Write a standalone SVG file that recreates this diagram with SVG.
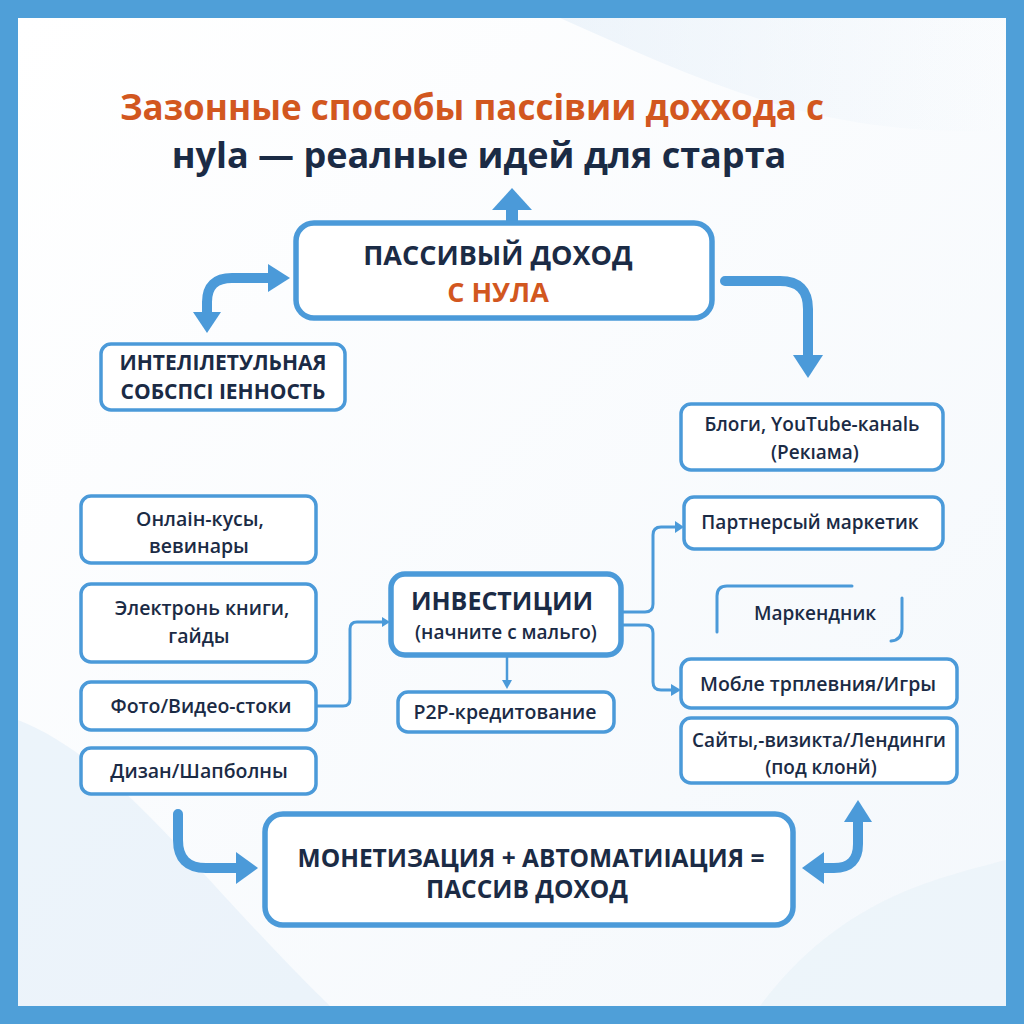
<svg xmlns="http://www.w3.org/2000/svg" width="1024" height="1024" viewBox="0 0 1024 1024">
<defs>
<linearGradient id="bg" x1="0" y1="0" x2="1" y2="1">
<stop offset="0" stop-color="#ffffff"/>
<stop offset="1" stop-color="#f4f8fc"/>
</linearGradient>
<linearGradient id="wave" x1="0" y1="0" x2="1" y2="0">
<stop offset="0" stop-color="#dbe9f6" stop-opacity="0.9"/>
<stop offset="1" stop-color="#dbe9f6" stop-opacity="0"/>
</linearGradient>
</defs>
<style>
.box{fill:#ffffff;stroke:#4b9ad9;stroke-width:3.5}
.bx{fill:#ffffff;stroke:#4b9ad9;stroke-width:5.5}
.t{font-family:"Open Sans","Noto Sans",sans-serif;font-weight:600;fill:#1b2b45;text-anchor:middle}
.tb{font-family:"Open Sans","Noto Sans",sans-serif;font-weight:700;fill:#1b2b45;text-anchor:middle}
.or{fill:#d2571f}
.con{fill:none;stroke:#4b9ad9;stroke-width:3;stroke-linecap:round;stroke-linejoin:round}
.big{fill:none;stroke:#4b9ad9;stroke-width:10;stroke-linecap:round}
.head{fill:#4b9ad9}
</style>
<rect x="0" y="0" width="1024" height="1024" fill="#4f9fd8"/>
<rect x="18" y="18" width="988" height="988" fill="url(#bg)"/>
<path d="M560 18 C700 80 820 140 1006 130 L1006 18 Z" fill="url(#wave)" opacity="0.5"/>
<path d="M18 720 C120 760 200 880 330 1006 L18 1006 Z" fill="#e3eef8" opacity="0.6"/>
<path d="M760 1006 C840 900 930 880 1006 860 L1006 1006 Z" fill="#e8f1f9" opacity="0.6"/>

<g id="title">
<text class="tb or" x="472" y="120" font-size="35">Зазонные способы пассівии доххода с</text>
<text class="tb" x="479" y="168" font-size="36">нуlа — реалные идей для старта</text>
</g>

<g id="connectors">
<path d="M512 222 L512 205" class="big" stroke-linecap="butt" style="stroke-width:12"/>
<path d="M492 210 L512 188 L532 210 Z" class="head"/>
<path d="M207 312 L207 302 Q207 278 232 278 L268 278" class="big" stroke-linecap="butt"/>
<path d="M268 264 L290 278 L268 292 Z" class="head"/>
<path d="M193 312 L207 333 L221 312 Z" class="head"/>
<path d="M725 281 L780 281 Q808 281 808 309 L808 356" class="big" stroke-linecap="round"/>
<path d="M793 355 L808 378 L823 355 Z" class="head"/>
<path d="M317 706 L343 706 Q350 706 350 699 L350 629 Q350 622 357 622 L384 622" class="con"/>
<path d="M382 617 L390 622 L382 627 Z" class="head"/>
<path d="M507 657 L507 682" class="con" style="stroke-width:2.5"/>
<path d="M502 680 L507 689 L512 680 Z" class="head"/>
<path d="M622 612 L645 612 Q653 612 653 604 L653 535 Q653 527 661 527 L677 527" class="con"/>
<path d="M675 521 L684 527 L675 533 Z" class="head"/>
<path d="M622 625 L645 625 Q653 625 653 633 L653 682 Q653 690 661 690 L673 690" class="con"/>
<path d="M671 684 L681 690 L671 696 Z" class="head"/>
<path d="M178 814 L178 840 Q178 868 206 868 L236 868" class="big" stroke-linecap="round"/>
<path d="M236 852 L258 868 L236 884 Z" class="head"/>
<path d="M822 868 L834 868 Q858 868 858 844 L858 820" class="big" stroke-linecap="butt"/>
<path d="M824 852 L802 868 L824 884 Z" class="head"/>
<path d="M844 822 L858 800 L872 822 Z" class="head"/>
</g>

<g id="node-main">
<rect class="bx" x="296" y="223" width="416" height="95" rx="18"/>
<text class="tb" x="498" y="265" font-size="27">ПАССИВЫЙ ДОХОД</text>
<text class="tb or" x="498" y="302" font-size="27">С НУЛА</text>
</g>

<g id="node-ip">
<rect class="box" x="101" y="344" width="244" height="66" rx="10"/>
<text class="tb" x="223" y="370" font-size="21">ИНТЕЛІЛЕТУЛЬНАЯ</text>
<text class="tb" x="223" y="399" font-size="21">СОБСПСІ ІЕННОСТЬ</text>
</g>

<g id="node-blogs">
<rect class="box" x="681" y="404" width="262" height="66" rx="10"/>
<text class="t" x="812" y="431" font-size="19">Блоги, YouTube-канаlь</text>
<text class="t" x="815" y="459" font-size="19">(Рекıама)</text>
</g>

<g id="node-partner">
<rect class="box" x="684" y="497" width="259" height="52" rx="10"/>
<text class="t" x="810" y="529" font-size="19">Партнерсый маркетик</text>
</g>

<g id="node-market">
<path d="M717 632 L717 596 Q717 586 727 586 L852 586" class="con"/>
<path d="M902 598 L902 629 Q902 640 891 641" class="con"/>
<text class="t" x="815" y="620" font-size="19">Маркендник</text>
</g>

<g id="node-mobile">
<rect class="box" x="681" y="659" width="276" height="49" rx="10"/>
<text class="t" x="818" y="691" font-size="19.5">Мобле трплевния/Игры</text>
</g>

<g id="node-sites">
<rect class="box" x="681" y="718" width="276" height="65" rx="10"/>
<text class="t" x="819" y="747" font-size="19">Сайты,-визикта/Лендинги</text>
<text class="t" x="821" y="774" font-size="19">(под клонй)</text>
</g>

<g id="node-courses">
<rect class="box" x="81" y="496" width="235" height="67" rx="10"/>
<text class="t" x="200" y="526" font-size="19.5">Онлаін-кусы,</text>
<text class="t" x="199" y="553" font-size="19.5">вевинары</text>
</g>

<g id="node-books">
<rect class="box" x="81" y="584" width="235" height="78" rx="10"/>
<text class="t" x="202" y="615" font-size="19.5">Электронь книги,</text>
<text class="t" x="199" y="643" font-size="19.5">гайды</text>
</g>

<g id="node-foto">
<rect class="box" x="81" y="682" width="235" height="48" rx="10"/>
<text class="t" x="201" y="713" font-size="19.5">Фото/Видео-стоки</text>
</g>

<g id="node-design">
<rect class="box" x="81" y="748" width="235" height="46" rx="10"/>
<text class="t" x="199" y="778" font-size="19.5">Дизан/Шапболны</text>
</g>

<g id="node-invest">
<rect class="bx" x="391" y="574" width="230" height="81" rx="14"/>
<text class="tb" x="502" y="610" font-size="25">ИНВЕСТИЦИИ</text>
<text class="t" x="506" y="639" font-size="19">(начните с мальго)</text>
</g>

<g id="node-p2p">
<rect class="box" x="398" y="692" width="216" height="40" rx="10"/>
<text class="t" x="505" y="719" font-size="19.5">P2P-кредитование</text>
</g>

<g id="node-bottom">
<rect class="bx" x="265" y="814" width="528" height="111" rx="18"/>
<text class="tb" x="531" y="867" font-size="24.5">МОНЕТИЗАЦИЯ + АВТОМАТИІАЦИЯ =</text>
<text class="tb" x="527" y="898" font-size="24.5">ПАССИВ ДОХОД</text>
</g>
</svg>
